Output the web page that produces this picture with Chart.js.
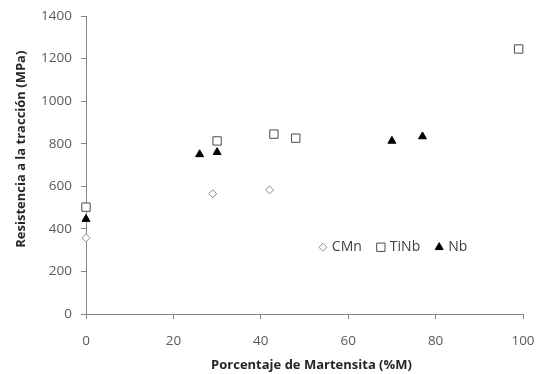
<!DOCTYPE html>
<html>
<head>
<meta charset="utf-8">
<script src="https://cdn.jsdelivr.net/npm/chart.js@4.4.1/dist/chart.umd.min.js"></script>
<style>
  html, body { margin: 0; padding: 0; background: #fff; }
  #wrap { width: 540px; height: 374px; }
</style>
</head>
<body>
<div id="wrap"><canvas id="myChart"></canvas></div>
<script>
// valores
const cmnX = [0, 29, 42];
const cmnY = [358, 565, 583];
const tinbX = [0, 30, 43, 48, 99];
const tinbY = [502, 813, 845, 826, 1245];
const nbX = [0, 26, 30, 70, 77];
const nbY = [446, 750, 760, 813, 834];

const xTicks = [0, 20, 40, 60, 80, 100];
const yTicks = [0, 200, 400, 600, 800, 1000, 1200, 1400];

const seriesNames = ['CMn', 'TiNb', 'Nb'];
const xTitle = 'Porcentaje de Martensita (%M)';
const yTitle = 'Resistencia a la tracción (MPa)';

function toPoints(xs, ys) {
    return xs.map((x, i) => ({ x: x, y: ys[i] }));
}

const FONT = "'Open Sans', sans-serif";

// títulos de ejes y leyenda dibujados a mano (como en Excel)
const excelExtras = {
    id: 'excelExtras',
    afterDraw(chart) {
        const ctx = chart.ctx;
        const area = chart.chartArea;
        ctx.save();

        ctx.fillStyle = '#262626';
        ctx.font = 'bold 13px ' + FONT;
        ctx.textAlign = 'center';
        ctx.textBaseline = 'middle';
        ctx.fillText(xTitle, area.left + (area.right - area.left) * 0.516, chart.height - 9);
        ctx.save();
        ctx.translate(21, area.top + (area.bottom - area.top) * 0.447);
        ctx.rotate(-Math.PI / 2);
        ctx.fillText(yTitle, 0, 0);
        ctx.restore();

        const y = area.top + (area.bottom - area.top) * 0.776;
        let x = area.left + (area.right - area.left) * 0.542;
        ctx.font = '14px ' + FONT;
        ctx.textAlign = 'left';
        chart.data.datasets.forEach((ds) => {
            ctx.fillStyle = ds.backgroundColor;
            ctx.strokeStyle = ds.borderColor;
            ctx.lineWidth = ds.borderWidth;
            Chart.helpers.drawPoint(ctx, {
                pointStyle: ds.pointStyle,
                radius: ds.pointRadius,
                borderWidth: ds.borderWidth,
                rotation: 0
            }, x, y);
            ctx.fillStyle = '#404040';
            ctx.fillText(ds.label, x + 9, y);
            x += 9 + ctx.measureText(ds.label).width + 19;
        });
        ctx.restore();
    }
};

function loadChart() {
    const ctx = document.getElementById('myChart');

    new Chart(ctx, {
        type: 'scatter',
        data: {
            datasets: [{
                label: seriesNames[0],
                data: toPoints(cmnX, cmnY),
                pointStyle: 'rectRot',
                pointRadius: 4,
                borderWidth: 1,
                backgroundColor: '#ffffff',
                borderColor: '#8c8c8c',
                clip: false
            }, {
                label: seriesNames[1],
                data: toPoints(tinbX, tinbY),
                pointStyle: 'rect',
                pointRadius: 5.9,
                borderWidth: 1,
                backgroundColor: '#ffffff',
                borderColor: '#4a4a4a',
                clip: false
            }, {
                label: seriesNames[2],
                data: toPoints(nbX, nbY),
                pointStyle: 'triangle',
                pointRadius: 4.6,
                borderWidth: 1,
                backgroundColor: '#000000',
                borderColor: '#000000',
                clip: false
            }]
        },
        options: {
            responsive: true,
            maintainAspectRatio: false,
            animation: false,
            layout: {
                padding: { top: 16, right: 17, left: 0, bottom: 0 }
            },
            plugins: {
                legend: { display: false },
                tooltip: { enabled: false }
            },
            scales: {
                x: {
                    type: 'linear',
                    min: 0,
                    max: 100,
                    afterBuildTicks: (scale) => {
                        scale.ticks = xTicks.map(v => ({ value: v }));
                    },
                    afterFit: (scale) => {
                        scale.height = 60;
                        scale.paddingLeft = 0;
                        scale.paddingRight = 0;
                    },
                    ticks: {
                        color: '#595959',
                        padding: 14,
                        callback: (v) => String(v),
                        font: { size: 13.5, family: FONT }
                    },
                    grid: {
                        drawOnChartArea: false,
                        drawTicks: true,
                        tickLength: 5,
                        color: '#868686'
                    },
                    border: { display: true, color: '#868686' }
                },
                y: {
                    type: 'linear',
                    min: 0,
                    max: 1400,
                    afterBuildTicks: (scale) => {
                        scale.ticks = yTicks.map(v => ({ value: v }));
                    },
                    afterFit: (scale) => {
                        scale.width = 86;
                        scale.paddingTop = 0;
                        scale.paddingBottom = 0;
                    },
                    ticks: {
                        color: '#595959',
                        padding: 9,
                        callback: (v) => String(v),
                        font: { size: 13.5, family: FONT }
                    },
                    grid: {
                        drawOnChartArea: false,
                        drawTicks: true,
                        tickLength: 5,
                        color: '#868686'
                    },
                    border: { display: true, color: '#868686' }
                }
            }
        },
        plugins: [excelExtras]
    });
}

loadChart();
</script>
</body>
</html>
